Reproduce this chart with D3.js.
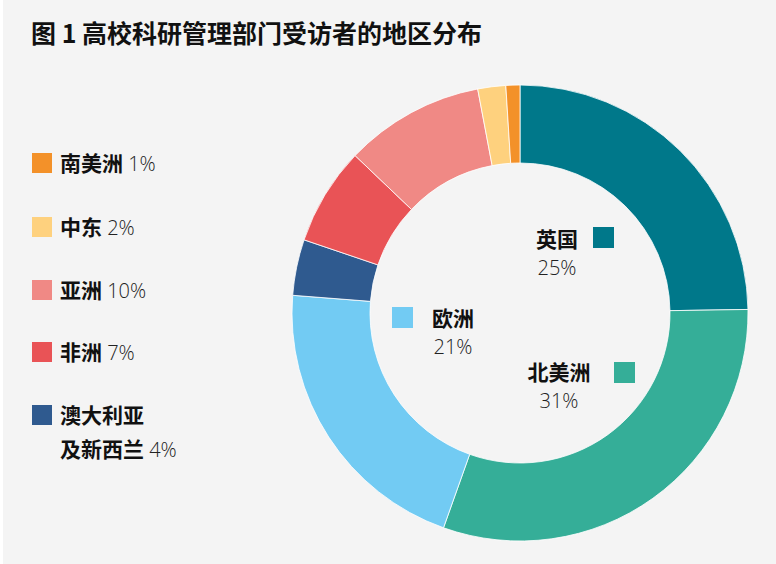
<!DOCTYPE html>
<html><head><meta charset="utf-8">
<script src="https://cdn.jsdelivr.net/npm/d3@7"></script>
<style>
html,body{margin:0;padding:0;background:#fff;}
svg{display:block;}
text{font-family:"Noto Sans CJK SC","Noto Sans",sans-serif;}
.pct{font-family:"Open Sans","Noto Sans",sans-serif;font-weight:300;}
</style></head>
<body>
<script>
const title = "图 1 高校科研管理部门受访者的地区分布";
const regions = ["英国","北美洲","欧洲","澳大利亚及新西兰","非洲","亚洲","中东","南美洲"];
const values = [25,31,21,4,7,10,2,1];
const colors = ["#00788a","#35ae98","#72cbf3","#2f5a8f","#e95356","#f08985","#fed17e","#f39129"];

const legendItems = [
  {name:["南美洲"], idx:7},
  {name:["中东"], idx:6},
  {name:["亚洲"], idx:5},
  {name:["非洲"], idx:4},
  {name:["澳大利亚","及新西兰"], idx:3}
];

const W=776,H=564;
const svg=d3.select("body").append("svg").attr("width",W).attr("height",H);
svg.append("rect").attr("x",3).attr("y",0).attr("width",W-3).attr("height",H).attr("fill","#f4f4f4");

svg.append("text").attr("x",31).attr("y",43).attr("font-size",25).attr("font-weight",700)
  .attr("fill","#111").text(title);

const cx=520, cy=313, rOut=228, rIn=150;
const data = regions.map((r,i)=>({name:r,value:values[i],color:colors[i]}));
const pie=d3.pie().value(d=>d.value).sort(null);
const arc=d3.arc().innerRadius(rIn).outerRadius(rOut);
const g=svg.append("g").attr("transform",`translate(${cx},${cy})`);
g.selectAll("path").data(pie(data)).enter().append("path")
  .attr("d",arc).attr("fill",d=>d.data.color)
  .attr("stroke","#ffffff").attr("stroke-width",0.8);

// legend
const ly=[163,227,290,352,415];
const fs=21;
legendItems.forEach((it,k)=>{
  const y=ly[k];
  svg.append("rect").attr("x",32).attr("y",y-10).attr("width",20).attr("height",20).attr("fill",colors[it.idx]);
  const t=svg.append("text").attr("x",60).attr("y",y+8).attr("font-size",fs).attr("fill","#111");
  if(it.name.length===1){
    t.append("tspan").attr("font-weight",700).text(it.name[0]);
    t.append("tspan").attr("class","pct").attr("fill","#222").attr("font-size",20).text(" "+values[it.idx]+"%");
  } else {
    t.append("tspan").attr("font-weight",700).text(it.name[0]);
    const t2=svg.append("text").attr("x",60).attr("y",y+42).attr("font-size",fs).attr("fill","#111");
    t2.append("tspan").attr("font-weight",700).text(it.name[1]);
    t2.append("tspan").attr("class","pct").attr("fill","#222").attr("font-size",20).text(" "+values[it.idx]+"%");
  }
});

// inner labels
const inner=[
  {idx:0, tx:557, ty:239, sq:[593,227]},
  {idx:2, tx:453, ty:318, sq:[392,307]},
  {idx:1, tx:559, ty:372, sq:[614,362]}
];
inner.forEach(o=>{
  svg.append("rect").attr("x",o.sq[0]).attr("y",o.sq[1]).attr("width",21).attr("height",21).attr("fill",colors[o.idx]);
  svg.append("text").attr("x",o.tx).attr("y",o.ty+8).attr("text-anchor","middle")
    .attr("font-size",fs).attr("font-weight",700).attr("fill","#111").text(regions[o.idx]);
  svg.append("text").attr("class","pct").attr("x",o.tx).attr("y",o.ty+36).attr("text-anchor","middle")
    .attr("font-size",20).attr("fill","#222").text(values[o.idx]+"%");
});
</script>
</body></html>
